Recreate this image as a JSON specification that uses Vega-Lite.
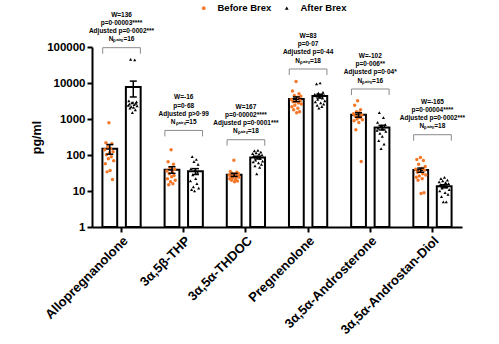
{
  "$schema": "https://vega.github.io/schema/vega-lite/v6.json",
  "autosize": "none",
  "padding": {"left": 92, "top": 47, "right": 37, "bottom": 117},
  "width": 370,
  "height": 180,
  "background": "white",
  "config": {
    "font": "Liberation Sans",
    "view": {"stroke": null},
    "axisY": {"domainColor": "black", "domainWidth": 2, "tickColor": "black", "tickWidth": 2, "tickSize": 5, "labelFontSize": 11.5, "labelFontWeight": "bold", "labelColor": "black", "labelPadding": 2, "titleFontSize": 12.5, "titleFontWeight": "bold", "titleColor": "black", "titlePadding": 3, "grid": false, "labelFont": "Liberation Sans", "titleFont": "Liberation Sans"},
    "axisX": {"domainColor": "black", "domainWidth": 2, "tickColor": "black", "tickWidth": 2, "tickSize": 5, "labelAngle": -45, "labelFontSize": 13, "labelFontWeight": "bold", "labelColor": "black", "labelPadding": 2, "grid": false, "labelFont": "Liberation Sans"},
    "legend": {"orient": "none", "legendX": 107, "legendY": -44, "direction": "horizontal", "title": null, "labelFont": "Liberation Sans", "labelFontWeight": "bold", "labelFontSize": 9.5, "labelColor": "black", "symbolSize": 14, "columnPadding": 10, "labelOffset": 9, "padding": 0}
  },
  "datasets": {
    "pts": [
      {"steroid": "Allopregnanolone", "group": "Before Brex", "subject": 8, "value": 789},
      {"steroid": "Allopregnanolone", "group": "Before Brex", "subject": 3, "value": 220},
      {"steroid": "Allopregnanolone", "group": "Before Brex", "subject": 13, "value": 206},
      {"steroid": "Allopregnanolone", "group": "Before Brex", "subject": 6, "value": 170},
      {"steroid": "Allopregnanolone", "group": "Before Brex", "subject": 11, "value": 150},
      {"steroid": "Allopregnanolone", "group": "Before Brex", "subject": 1, "value": 140},
      {"steroid": "Allopregnanolone", "group": "Before Brex", "subject": 15, "value": 124},
      {"steroid": "Allopregnanolone", "group": "Before Brex", "subject": 9, "value": 116},
      {"steroid": "Allopregnanolone", "group": "Before Brex", "subject": 4, "value": 102},
      {"steroid": "Allopregnanolone", "group": "Before Brex", "subject": 12, "value": 90},
      {"steroid": "Allopregnanolone", "group": "Before Brex", "subject": 7, "value": 79},
      {"steroid": "Allopregnanolone", "group": "Before Brex", "subject": 16, "value": 69},
      {"steroid": "Allopregnanolone", "group": "Before Brex", "subject": 2, "value": 57},
      {"steroid": "Allopregnanolone", "group": "Before Brex", "subject": 10, "value": 37},
      {"steroid": "Allopregnanolone", "group": "Before Brex", "subject": 5, "value": 34},
      {"steroid": "Allopregnanolone", "group": "Before Brex", "subject": 14, "value": 21},
      {"steroid": "Allopregnanolone", "group": "After Brex", "subject": 5, "value": 45000},
      {"steroid": "Allopregnanolone", "group": "After Brex", "subject": 12, "value": 44000},
      {"steroid": "Allopregnanolone", "group": "After Brex", "subject": 2, "value": 3200},
      {"steroid": "Allopregnanolone", "group": "After Brex", "subject": 15, "value": 3000},
      {"steroid": "Allopregnanolone", "group": "After Brex", "subject": 9, "value": 2900},
      {"steroid": "Allopregnanolone", "group": "After Brex", "subject": 7, "value": 2800},
      {"steroid": "Allopregnanolone", "group": "After Brex", "subject": 14, "value": 2700},
      {"steroid": "Allopregnanolone", "group": "After Brex", "subject": 3, "value": 2600},
      {"steroid": "Allopregnanolone", "group": "After Brex", "subject": 11, "value": 2500},
      {"steroid": "Allopregnanolone", "group": "After Brex", "subject": 1, "value": 2400},
      {"steroid": "Allopregnanolone", "group": "After Brex", "subject": 16, "value": 2300},
      {"steroid": "Allopregnanolone", "group": "After Brex", "subject": 6, "value": 2200},
      {"steroid": "Allopregnanolone", "group": "After Brex", "subject": 10, "value": 2100},
      {"steroid": "Allopregnanolone", "group": "After Brex", "subject": 4, "value": 2000},
      {"steroid": "Allopregnanolone", "group": "After Brex", "subject": 13, "value": 1800},
      {"steroid": "Allopregnanolone", "group": "After Brex", "subject": 8, "value": 1500},
      {"steroid": "3α,5β-THP", "group": "Before Brex", "subject": 8, "value": 140},
      {"steroid": "3α,5β-THP", "group": "Before Brex", "subject": 3, "value": 65},
      {"steroid": "3α,5β-THP", "group": "Before Brex", "subject": 12, "value": 55},
      {"steroid": "3α,5β-THP", "group": "Before Brex", "subject": 6, "value": 45},
      {"steroid": "3α,5β-THP", "group": "Before Brex", "subject": 14, "value": 40},
      {"steroid": "3α,5β-THP", "group": "Before Brex", "subject": 1, "value": 36},
      {"steroid": "3α,5β-THP", "group": "Before Brex", "subject": 10, "value": 33},
      {"steroid": "3α,5β-THP", "group": "Before Brex", "subject": 5, "value": 30},
      {"steroid": "3α,5β-THP", "group": "Before Brex", "subject": 13, "value": 27},
      {"steroid": "3α,5β-THP", "group": "Before Brex", "subject": 9, "value": 25},
      {"steroid": "3α,5β-THP", "group": "Before Brex", "subject": 2, "value": 22},
      {"steroid": "3α,5β-THP", "group": "Before Brex", "subject": 15, "value": 20},
      {"steroid": "3α,5β-THP", "group": "Before Brex", "subject": 7, "value": 18},
      {"steroid": "3α,5β-THP", "group": "Before Brex", "subject": 11, "value": 16},
      {"steroid": "3α,5β-THP", "group": "Before Brex", "subject": 4, "value": 15},
      {"steroid": "3α,5β-THP", "group": "After Brex", "subject": 4, "value": 90},
      {"steroid": "3α,5β-THP", "group": "After Brex", "subject": 11, "value": 75},
      {"steroid": "3α,5β-THP", "group": "After Brex", "subject": 7, "value": 65},
      {"steroid": "3α,5β-THP", "group": "After Brex", "subject": 14, "value": 55},
      {"steroid": "3α,5β-THP", "group": "After Brex", "subject": 2, "value": 42},
      {"steroid": "3α,5β-THP", "group": "After Brex", "subject": 9, "value": 38},
      {"steroid": "3α,5β-THP", "group": "After Brex", "subject": 13, "value": 33},
      {"steroid": "3α,5β-THP", "group": "After Brex", "subject": 5, "value": 28},
      {"steroid": "3α,5β-THP", "group": "After Brex", "subject": 10, "value": 22},
      {"steroid": "3α,5β-THP", "group": "After Brex", "subject": 1, "value": 19},
      {"steroid": "3α,5β-THP", "group": "After Brex", "subject": 12, "value": 16},
      {"steroid": "3α,5β-THP", "group": "After Brex", "subject": 6, "value": 13},
      {"steroid": "3α,5β-THP", "group": "After Brex", "subject": 15, "value": 12},
      {"steroid": "3α,5β-THP", "group": "After Brex", "subject": 3, "value": 11},
      {"steroid": "3α,5β-THP", "group": "After Brex", "subject": 8, "value": 10},
      {"steroid": "3α,5α-THDOC", "group": "Before Brex", "subject": 9, "value": 71},
      {"steroid": "3α,5α-THDOC", "group": "Before Brex", "subject": 3, "value": 35},
      {"steroid": "3α,5α-THDOC", "group": "Before Brex", "subject": 14, "value": 33},
      {"steroid": "3α,5α-THDOC", "group": "Before Brex", "subject": 6, "value": 31},
      {"steroid": "3α,5α-THDOC", "group": "Before Brex", "subject": 17, "value": 30},
      {"steroid": "3α,5α-THDOC", "group": "Before Brex", "subject": 11, "value": 29},
      {"steroid": "3α,5α-THDOC", "group": "Before Brex", "subject": 1, "value": 28},
      {"steroid": "3α,5α-THDOC", "group": "Before Brex", "subject": 16, "value": 27},
      {"steroid": "3α,5α-THDOC", "group": "Before Brex", "subject": 8, "value": 26},
      {"steroid": "3α,5α-THDOC", "group": "Before Brex", "subject": 4, "value": 25},
      {"steroid": "3α,5α-THDOC", "group": "Before Brex", "subject": 13, "value": 24},
      {"steroid": "3α,5α-THDOC", "group": "Before Brex", "subject": 18, "value": 24},
      {"steroid": "3α,5α-THDOC", "group": "Before Brex", "subject": 7, "value": 23},
      {"steroid": "3α,5α-THDOC", "group": "Before Brex", "subject": 2, "value": 22},
      {"steroid": "3α,5α-THDOC", "group": "Before Brex", "subject": 12, "value": 21},
      {"steroid": "3α,5α-THDOC", "group": "Before Brex", "subject": 5, "value": 20},
      {"steroid": "3α,5α-THDOC", "group": "Before Brex", "subject": 15, "value": 19},
      {"steroid": "3α,5α-THDOC", "group": "Before Brex", "subject": 10, "value": 18},
      {"steroid": "3α,5α-THDOC", "group": "After Brex", "subject": 10, "value": 135},
      {"steroid": "3α,5α-THDOC", "group": "After Brex", "subject": 4, "value": 130},
      {"steroid": "3α,5α-THDOC", "group": "After Brex", "subject": 15, "value": 120},
      {"steroid": "3α,5α-THDOC", "group": "After Brex", "subject": 7, "value": 115},
      {"steroid": "3α,5α-THDOC", "group": "After Brex", "subject": 1, "value": 110},
      {"steroid": "3α,5α-THDOC", "group": "After Brex", "subject": 12, "value": 105},
      {"steroid": "3α,5α-THDOC", "group": "After Brex", "subject": 17, "value": 100},
      {"steroid": "3α,5α-THDOC", "group": "After Brex", "subject": 3, "value": 95},
      {"steroid": "3α,5α-THDOC", "group": "After Brex", "subject": 9, "value": 90},
      {"steroid": "3α,5α-THDOC", "group": "After Brex", "subject": 14, "value": 80},
      {"steroid": "3α,5α-THDOC", "group": "After Brex", "subject": 6, "value": 72},
      {"steroid": "3α,5α-THDOC", "group": "After Brex", "subject": 18, "value": 68},
      {"steroid": "3α,5α-THDOC", "group": "After Brex", "subject": 2, "value": 64},
      {"steroid": "3α,5α-THDOC", "group": "After Brex", "subject": 11, "value": 60},
      {"steroid": "3α,5α-THDOC", "group": "After Brex", "subject": 16, "value": 55},
      {"steroid": "3α,5α-THDOC", "group": "After Brex", "subject": 5, "value": 50},
      {"steroid": "3α,5α-THDOC", "group": "After Brex", "subject": 13, "value": 45},
      {"steroid": "3α,5α-THDOC", "group": "After Brex", "subject": 8, "value": 30},
      {"steroid": "Pregnenolone", "group": "Before Brex", "subject": 9, "value": 11000},
      {"steroid": "Pregnenolone", "group": "Before Brex", "subject": 3, "value": 6000},
      {"steroid": "Pregnenolone", "group": "Before Brex", "subject": 14, "value": 5000},
      {"steroid": "Pregnenolone", "group": "Before Brex", "subject": 6, "value": 4500},
      {"steroid": "Pregnenolone", "group": "Before Brex", "subject": 17, "value": 4300},
      {"steroid": "Pregnenolone", "group": "Before Brex", "subject": 11, "value": 4000},
      {"steroid": "Pregnenolone", "group": "Before Brex", "subject": 1, "value": 3500},
      {"steroid": "Pregnenolone", "group": "Before Brex", "subject": 16, "value": 3200},
      {"steroid": "Pregnenolone", "group": "Before Brex", "subject": 8, "value": 3000},
      {"steroid": "Pregnenolone", "group": "Before Brex", "subject": 4, "value": 3000},
      {"steroid": "Pregnenolone", "group": "Before Brex", "subject": 13, "value": 2800},
      {"steroid": "Pregnenolone", "group": "Before Brex", "subject": 18, "value": 2600},
      {"steroid": "Pregnenolone", "group": "Before Brex", "subject": 7, "value": 2400},
      {"steroid": "Pregnenolone", "group": "Before Brex", "subject": 2, "value": 2200},
      {"steroid": "Pregnenolone", "group": "Before Brex", "subject": 12, "value": 2000},
      {"steroid": "Pregnenolone", "group": "Before Brex", "subject": 5, "value": 1800},
      {"steroid": "Pregnenolone", "group": "Before Brex", "subject": 15, "value": 1600},
      {"steroid": "Pregnenolone", "group": "Before Brex", "subject": 10, "value": 1500},
      {"steroid": "Pregnenolone", "group": "After Brex", "subject": 10, "value": 10000},
      {"steroid": "Pregnenolone", "group": "After Brex", "subject": 4, "value": 9500},
      {"steroid": "Pregnenolone", "group": "After Brex", "subject": 15, "value": 5500},
      {"steroid": "Pregnenolone", "group": "After Brex", "subject": 7, "value": 5200},
      {"steroid": "Pregnenolone", "group": "After Brex", "subject": 1, "value": 4800},
      {"steroid": "Pregnenolone", "group": "After Brex", "subject": 12, "value": 4700},
      {"steroid": "Pregnenolone", "group": "After Brex", "subject": 17, "value": 4500},
      {"steroid": "Pregnenolone", "group": "After Brex", "subject": 3, "value": 4400},
      {"steroid": "Pregnenolone", "group": "After Brex", "subject": 9, "value": 4100},
      {"steroid": "Pregnenolone", "group": "After Brex", "subject": 14, "value": 3800},
      {"steroid": "Pregnenolone", "group": "After Brex", "subject": 6, "value": 3500},
      {"steroid": "Pregnenolone", "group": "After Brex", "subject": 18, "value": 3200},
      {"steroid": "Pregnenolone", "group": "After Brex", "subject": 2, "value": 3000},
      {"steroid": "Pregnenolone", "group": "After Brex", "subject": 11, "value": 2800},
      {"steroid": "Pregnenolone", "group": "After Brex", "subject": 16, "value": 2600},
      {"steroid": "Pregnenolone", "group": "After Brex", "subject": 5, "value": 2400},
      {"steroid": "Pregnenolone", "group": "After Brex", "subject": 13, "value": 2200},
      {"steroid": "Pregnenolone", "group": "After Brex", "subject": 8, "value": 2000},
      {"steroid": "3α,5α-Androsterone", "group": "Before Brex", "subject": 8, "value": 3200},
      {"steroid": "3α,5α-Androsterone", "group": "Before Brex", "subject": 3, "value": 2400},
      {"steroid": "3α,5α-Androsterone", "group": "Before Brex", "subject": 13, "value": 1800},
      {"steroid": "3α,5α-Androsterone", "group": "Before Brex", "subject": 6, "value": 1600},
      {"steroid": "3α,5α-Androsterone", "group": "Before Brex", "subject": 11, "value": 1500},
      {"steroid": "3α,5α-Androsterone", "group": "Before Brex", "subject": 1, "value": 1400},
      {"steroid": "3α,5α-Androsterone", "group": "Before Brex", "subject": 15, "value": 1300},
      {"steroid": "3α,5α-Androsterone", "group": "Before Brex", "subject": 9, "value": 1200},
      {"steroid": "3α,5α-Androsterone", "group": "Before Brex", "subject": 4, "value": 1200},
      {"steroid": "3α,5α-Androsterone", "group": "Before Brex", "subject": 12, "value": 1100},
      {"steroid": "3α,5α-Androsterone", "group": "Before Brex", "subject": 7, "value": 1000},
      {"steroid": "3α,5α-Androsterone", "group": "Before Brex", "subject": 16, "value": 950},
      {"steroid": "3α,5α-Androsterone", "group": "Before Brex", "subject": 2, "value": 900},
      {"steroid": "3α,5α-Androsterone", "group": "Before Brex", "subject": 10, "value": 800},
      {"steroid": "3α,5α-Androsterone", "group": "Before Brex", "subject": 5, "value": 500},
      {"steroid": "3α,5α-Androsterone", "group": "Before Brex", "subject": 14, "value": 66},
      {"steroid": "3α,5α-Androsterone", "group": "After Brex", "subject": 5, "value": 1500},
      {"steroid": "3α,5α-Androsterone", "group": "After Brex", "subject": 12, "value": 1100},
      {"steroid": "3α,5α-Androsterone", "group": "After Brex", "subject": 2, "value": 800},
      {"steroid": "3α,5α-Androsterone", "group": "After Brex", "subject": 15, "value": 700},
      {"steroid": "3α,5α-Androsterone", "group": "After Brex", "subject": 9, "value": 650},
      {"steroid": "3α,5α-Androsterone", "group": "After Brex", "subject": 7, "value": 620},
      {"steroid": "3α,5α-Androsterone", "group": "After Brex", "subject": 14, "value": 600},
      {"steroid": "3α,5α-Androsterone", "group": "After Brex", "subject": 3, "value": 560},
      {"steroid": "3α,5α-Androsterone", "group": "After Brex", "subject": 11, "value": 520},
      {"steroid": "3α,5α-Androsterone", "group": "After Brex", "subject": 1, "value": 480},
      {"steroid": "3α,5α-Androsterone", "group": "After Brex", "subject": 16, "value": 450},
      {"steroid": "3α,5α-Androsterone", "group": "After Brex", "subject": 6, "value": 400},
      {"steroid": "3α,5α-Androsterone", "group": "After Brex", "subject": 10, "value": 330},
      {"steroid": "3α,5α-Androsterone", "group": "After Brex", "subject": 4, "value": 250},
      {"steroid": "3α,5α-Androsterone", "group": "After Brex", "subject": 13, "value": 200},
      {"steroid": "3α,5α-Androsterone", "group": "After Brex", "subject": 8, "value": 150},
      {"steroid": "3α,5α-Androstan-Diol", "group": "Before Brex", "subject": 9, "value": 85},
      {"steroid": "3α,5α-Androstan-Diol", "group": "Before Brex", "subject": 3, "value": 75},
      {"steroid": "3α,5α-Androstan-Diol", "group": "Before Brex", "subject": 14, "value": 70},
      {"steroid": "3α,5α-Androstan-Diol", "group": "Before Brex", "subject": 6, "value": 55},
      {"steroid": "3α,5α-Androstan-Diol", "group": "Before Brex", "subject": 17, "value": 48},
      {"steroid": "3α,5α-Androstan-Diol", "group": "Before Brex", "subject": 11, "value": 42},
      {"steroid": "3α,5α-Androstan-Diol", "group": "Before Brex", "subject": 1, "value": 40},
      {"steroid": "3α,5α-Androstan-Diol", "group": "Before Brex", "subject": 16, "value": 38},
      {"steroid": "3α,5α-Androstan-Diol", "group": "Before Brex", "subject": 8, "value": 35},
      {"steroid": "3α,5α-Androstan-Diol", "group": "Before Brex", "subject": 4, "value": 33},
      {"steroid": "3α,5α-Androstan-Diol", "group": "Before Brex", "subject": 13, "value": 30},
      {"steroid": "3α,5α-Androstan-Diol", "group": "Before Brex", "subject": 18, "value": 28},
      {"steroid": "3α,5α-Androstan-Diol", "group": "Before Brex", "subject": 7, "value": 26},
      {"steroid": "3α,5α-Androstan-Diol", "group": "Before Brex", "subject": 2, "value": 24},
      {"steroid": "3α,5α-Androstan-Diol", "group": "Before Brex", "subject": 12, "value": 22},
      {"steroid": "3α,5α-Androstan-Diol", "group": "Before Brex", "subject": 5, "value": 20},
      {"steroid": "3α,5α-Androstan-Diol", "group": "Before Brex", "subject": 15, "value": 9},
      {"steroid": "3α,5α-Androstan-Diol", "group": "Before Brex", "subject": 10, "value": 8.5},
      {"steroid": "3α,5α-Androstan-Diol", "group": "After Brex", "subject": 10, "value": 24},
      {"steroid": "3α,5α-Androstan-Diol", "group": "After Brex", "subject": 4, "value": 22},
      {"steroid": "3α,5α-Androstan-Diol", "group": "After Brex", "subject": 15, "value": 20},
      {"steroid": "3α,5α-Androstan-Diol", "group": "After Brex", "subject": 7, "value": 19},
      {"steroid": "3α,5α-Androstan-Diol", "group": "After Brex", "subject": 1, "value": 18},
      {"steroid": "3α,5α-Androstan-Diol", "group": "After Brex", "subject": 12, "value": 17},
      {"steroid": "3α,5α-Androstan-Diol", "group": "After Brex", "subject": 17, "value": 16},
      {"steroid": "3α,5α-Androstan-Diol", "group": "After Brex", "subject": 3, "value": 15},
      {"steroid": "3α,5α-Androstan-Diol", "group": "After Brex", "subject": 9, "value": 14},
      {"steroid": "3α,5α-Androstan-Diol", "group": "After Brex", "subject": 14, "value": 13},
      {"steroid": "3α,5α-Androstan-Diol", "group": "After Brex", "subject": 6, "value": 12},
      {"steroid": "3α,5α-Androstan-Diol", "group": "After Brex", "subject": 18, "value": 11},
      {"steroid": "3α,5α-Androstan-Diol", "group": "After Brex", "subject": 2, "value": 10},
      {"steroid": "3α,5α-Androstan-Diol", "group": "After Brex", "subject": 11, "value": 9},
      {"steroid": "3α,5α-Androstan-Diol", "group": "After Brex", "subject": 16, "value": 8},
      {"steroid": "3α,5α-Androstan-Diol", "group": "After Brex", "subject": 5, "value": 7},
      {"steroid": "3α,5α-Androstan-Diol", "group": "After Brex", "subject": 13, "value": 5},
      {"steroid": "3α,5α-Androstan-Diol", "group": "After Brex", "subject": 8, "value": 5}
    ],
    "brackets": [
      {"steroid": "Allopregnanolone", "group": "Before Brex", "seq": 1, "yb": 65100},
      {"steroid": "Allopregnanolone", "group": "Before Brex", "seq": 2, "yb": 95700},
      {"steroid": "Allopregnanolone", "group": "After Brex", "seq": 3, "yb": 95700},
      {"steroid": "Allopregnanolone", "group": "After Brex", "seq": 4, "yb": 65100},
      {"steroid": "3α,5β-THP", "group": "Before Brex", "seq": 1, "yb": 328},
      {"steroid": "3α,5β-THP", "group": "Before Brex", "seq": 2, "yb": 482},
      {"steroid": "3α,5β-THP", "group": "After Brex", "seq": 3, "yb": 482},
      {"steroid": "3α,5β-THP", "group": "After Brex", "seq": 4, "yb": 328},
      {"steroid": "3α,5α-THDOC", "group": "Before Brex", "seq": 1, "yb": 181},
      {"steroid": "3α,5α-THDOC", "group": "Before Brex", "seq": 2, "yb": 266},
      {"steroid": "3α,5α-THDOC", "group": "After Brex", "seq": 3, "yb": 266},
      {"steroid": "3α,5α-THDOC", "group": "After Brex", "seq": 4, "yb": 181},
      {"steroid": "Pregnenolone", "group": "Before Brex", "seq": 1, "yb": 16700},
      {"steroid": "Pregnenolone", "group": "Before Brex", "seq": 2, "yb": 24500},
      {"steroid": "Pregnenolone", "group": "After Brex", "seq": 3, "yb": 24500},
      {"steroid": "Pregnenolone", "group": "After Brex", "seq": 4, "yb": 16700},
      {"steroid": "3α,5α-Androsterone", "group": "Before Brex", "seq": 1, "yb": 4630},
      {"steroid": "3α,5α-Androsterone", "group": "Before Brex", "seq": 2, "yb": 6810},
      {"steroid": "3α,5α-Androsterone", "group": "After Brex", "seq": 3, "yb": 6810},
      {"steroid": "3α,5α-Androsterone", "group": "After Brex", "seq": 4, "yb": 4630},
      {"steroid": "3α,5α-Androstan-Diol", "group": "Before Brex", "seq": 1, "yb": 249},
      {"steroid": "3α,5α-Androstan-Diol", "group": "Before Brex", "seq": 2, "yb": 366},
      {"steroid": "3α,5α-Androstan-Diol", "group": "After Brex", "seq": 3, "yb": 366},
      {"steroid": "3α,5α-Androstan-Diol", "group": "After Brex", "seq": 4, "yb": 249}
    ],
    "notes": [
      {"steroid": "Allopregnanolone", "yt": 95700, "label": "W=136\np=0·00003****\nAdjusted p=0·0002***\nNₚₐᵢᵣₛ=16"},
      {"steroid": "3α,5β-THP", "yt": 482, "label": "W=-16\np=0·68\nAdjusted p>0·99\nNₚₐᵢᵣₛ=15"},
      {"steroid": "3α,5α-THDOC", "yt": 266, "label": "W=167\np=0·00002****\nAdjusted p=0·0001***\nNₚₐᵢᵣₛ=18"},
      {"steroid": "Pregnenolone", "yt": 24500, "label": "W=83\np=0·07\nAdjusted p=0·44\nNₚₐᵢᵣₛ=18"},
      {"steroid": "3α,5α-Androsterone", "yt": 6810, "label": "W=-102\np=0·006**\nAdjusted p=0·04*\nNₚₐᵢᵣₛ=16"},
      {"steroid": "3α,5α-Androstan-Diol", "yt": 366, "label": "W=-165\np=0·00004****\nAdjusted p=0·0002***\nNₚₐᵢᵣₛ=18"}
    ]
  },
  "layer": [
    {
      "data": {"name": "pts"},
      "mark": {"type": "bar", "fill": "white", "stroke": "black", "strokeWidth": 2},
      "encoding": {
        "x": {"field": "steroid", "type": "nominal", "sort": ["Allopregnanolone", "3α,5β-THP", "3α,5α-THDOC", "Pregnenolone", "3α,5α-Androsterone", "3α,5α-Androstan-Diol"], "scale": {"paddingInner": 0.37, "paddingOuter": 0.16}, "title": null},
        "xOffset": {"field": "group", "type": "nominal", "sort": ["Before Brex", "After Brex"], "scale": {"paddingInner": 0.37, "paddingOuter": 0.02}},
        "y": {"aggregate": "mean", "field": "value", "type": "quantitative", "scale": {"type": "log", "domain": [1, 100000], "nice": false}, "axis": {"values": [1, 10, 100, 1000, 10000, 100000], "format": "d", "labelOverlap": false}, "title": "pg/ml"}
      }
    },
    {
      "data": {"name": "pts"},
      "transform": [{"filter": "datum.group === 'Before Brex'"}],
      "mark": {"type": "point", "filled": true, "size": 12, "opacity": 1},
      "encoding": {
        "x": {"field": "steroid", "type": "nominal", "sort": ["Allopregnanolone", "3α,5β-THP", "3α,5α-THDOC", "Pregnenolone", "3α,5α-Androsterone", "3α,5α-Androstan-Diol"], "title": null},
        "xOffset": {"field": "subject", "type": "ordinal", "scale": {"type": "point", "range": [2.5, 13.2]}},
        "y": {"field": "value", "type": "quantitative", "scale": {"type": "log", "domain": [1, 100000], "nice": false}, "axis": {"values": [1, 10, 100, 1000, 10000, 100000], "format": "d", "labelOverlap": false}, "title": "pg/ml"},
        "color": {"field": "group", "type": "nominal", "scale": {"domain": ["Before Brex", "After Brex"], "range": ["#F4782A", "#000000"]}, "title": null},
        "shape": {"field": "group", "type": "nominal", "scale": {"domain": ["Before Brex", "After Brex"], "range": ["circle", "triangle-up"]}, "title": null}
      }
    },
    {
      "data": {"name": "pts"},
      "transform": [{"filter": "datum.group === 'After Brex'"}],
      "mark": {"type": "point", "filled": true, "size": 10, "opacity": 1},
      "encoding": {
        "x": {"field": "steroid", "type": "nominal", "sort": ["Allopregnanolone", "3α,5β-THP", "3α,5α-THDOC", "Pregnenolone", "3α,5α-Androsterone", "3α,5α-Androstan-Diol"], "title": null},
        "xOffset": {"field": "subject", "type": "ordinal", "scale": {"type": "point", "range": [26, 36.6]}},
        "y": {"field": "value", "type": "quantitative", "scale": {"type": "log", "domain": [1, 100000], "nice": false}, "axis": {"values": [1, 10, 100, 1000, 10000, 100000], "format": "d", "labelOverlap": false}, "title": "pg/ml"},
        "color": {"field": "group", "type": "nominal", "scale": {"domain": ["Before Brex", "After Brex"], "range": ["#F4782A", "#000000"]}, "title": null},
        "shape": {"field": "group", "type": "nominal", "scale": {"domain": ["Before Brex", "After Brex"], "range": ["circle", "triangle-up"]}, "title": null}
      }
    },
    {
      "data": {"name": "pts"},
      "transform": [
        {"aggregate": [{"op": "mean", "field": "value", "as": "m"}, {"op": "stderr", "field": "value", "as": "se"}], "groupby": ["steroid", "group"]},
        {"calculate": "datum.m - datum.se", "as": "lo"},
        {"calculate": "datum.m + datum.se", "as": "hi"}
      ],
      "encoding": {
        "x": {"field": "steroid", "type": "nominal", "sort": ["Allopregnanolone", "3α,5β-THP", "3α,5α-THDOC", "Pregnenolone", "3α,5α-Androsterone", "3α,5α-Androstan-Diol"], "title": null},
        "xOffset": {"field": "group", "type": "nominal", "sort": ["Before Brex", "After Brex"], "scale": {"paddingInner": 0.37, "paddingOuter": 0.02}}
      },
      "layer": [
        {
          "mark": {"type": "rule", "color": "black", "strokeWidth": 1.5},
          "encoding": {
            "y": {"field": "lo", "type": "quantitative", "scale": {"type": "log", "domain": [1, 100000], "nice": false}, "axis": {"values": [1, 10, 100, 1000, 10000, 100000], "format": "d", "labelOverlap": false}, "title": "pg/ml"},
            "y2": {"field": "hi"}
          }
        },
        {
          "mark": {"type": "tick", "color": "black", "thickness": 1.5, "size": 7, "opacity": 1},
          "encoding": {
            "y": {"field": "hi", "type": "quantitative", "scale": {"type": "log", "domain": [1, 100000], "nice": false}, "axis": {"values": [1, 10, 100, 1000, 10000, 100000], "format": "d", "labelOverlap": false}, "title": "pg/ml"}
          }
        },
        {
          "mark": {"type": "tick", "color": "black", "thickness": 1.5, "size": 7, "opacity": 1},
          "encoding": {
            "y": {"field": "lo", "type": "quantitative", "scale": {"type": "log", "domain": [1, 100000], "nice": false}, "axis": {"values": [1, 10, 100, 1000, 10000, 100000], "format": "d", "labelOverlap": false}, "title": "pg/ml"}
          }
        }
      ]
    },
    {
      "data": {"name": "brackets"},
      "mark": {"type": "line", "color": "#8a8a8a", "strokeWidth": 1},
      "encoding": {
        "x": {"field": "steroid", "type": "nominal", "sort": ["Allopregnanolone", "3α,5β-THP", "3α,5α-THDOC", "Pregnenolone", "3α,5α-Androsterone", "3α,5α-Androstan-Diol"], "title": null},
        "xOffset": {"field": "group", "type": "nominal", "sort": ["Before Brex", "After Brex"], "scale": {"paddingInner": 0.37, "paddingOuter": 0.02}},
        "y": {"field": "yb", "type": "quantitative", "scale": {"type": "log", "domain": [1, 100000], "nice": false}, "axis": {"values": [1, 10, 100, 1000, 10000, 100000], "format": "d", "labelOverlap": false}, "title": "pg/ml"},
        "detail": {"field": "steroid"},
        "order": {"field": "seq", "type": "quantitative"}
      }
    },
    {
      "data": {"name": "notes"},
      "mark": {"type": "text", "lineBreak": "\n", "fontSize": 6.5, "fontWeight": "bold", "lineHeight": 8.2, "baseline": "bottom", "align": "center", "dy": -30, "color": "black", "font": "Liberation Sans"},
      "encoding": {
        "x": {"field": "steroid", "type": "nominal", "sort": ["Allopregnanolone", "3α,5β-THP", "3α,5α-THDOC", "Pregnenolone", "3α,5α-Androsterone", "3α,5α-Androstan-Diol"], "title": null},
        "y": {"field": "yt", "type": "quantitative", "scale": {"type": "log", "domain": [1, 100000], "nice": false}, "axis": {"values": [1, 10, 100, 1000, 10000, 100000], "format": "d", "labelOverlap": false}, "title": "pg/ml"},
        "text": {"field": "label"}
      }
    }
  ],
  "resolve": {"scale": {"xOffset": "independent"}}
}
